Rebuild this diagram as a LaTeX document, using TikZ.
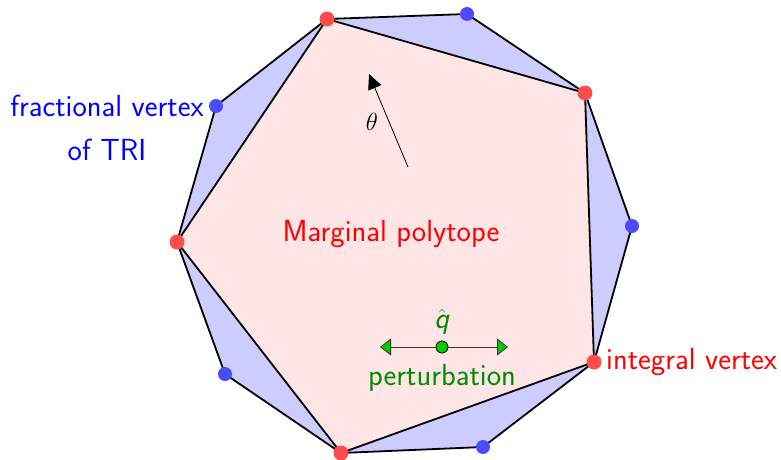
\documentclass[tikz,border=0pt]{standalone}
\usepackage{amsmath,amssymb}
\usepackage{fontspec}
\usepackage{tikz}
\usetikzlibrary{arrows.meta,positioning}
\renewcommand{\familydefault}{\sfdefault}

\tikzset{
  intdot/.style={circle,fill=red!70,inner sep=0pt,minimum size=15pt},
  fracdot/.style={circle,fill=blue!70,inner sep=0pt,minimum size=14pt},
  lbl/.style={font=\fontsize{30.5}{44}\selectfont,align=center}
}

\begin{document}
\begin{tikzpicture}[x=1pt,y=-1pt,line width=1.8pt]
  \useasboundingbox (0,0) rectangle (781,460);
  % vertices
  \coordinate (r1) at (327,19);
  \coordinate (b1) at (467,14);
  \coordinate (r2) at (585,93);
  \coordinate (b2) at (632,226);
  \coordinate (r3) at (594,362);
  \coordinate (b3) at (483,447);
  \coordinate (r4) at (341,453);
  \coordinate (b4) at (225,374);
  \coordinate (r5) at (177,242);
  \coordinate (b5) at (216,106);
  \fill[blue!20] (r1) -- (b1) -- (r2) -- (b2) -- (r3) -- (b3) -- (r4) -- (b4) -- (r5) -- (b5) -- cycle;
  \fill[red!10] (r1) -- (r2) -- (r3) -- (r4) -- (r5) -- cycle;
  \draw (r1) -- (b1) -- (r2) -- (b2) -- (r3) -- (b3) -- (r4) -- (b4) -- (r5) -- (b5) -- cycle;
  \draw (r1) -- (r2) -- (r3) -- (r4) -- (r5) -- cycle;
  \foreach \v in {b1,b2,b3,b4,b5} \node[fracdot] at (\v) {};
  \foreach \v in {r1,r2,r3,r4,r5} \node[intdot] at (\v) {};
  % direction theta
  \coordinate (th0) at (408,167);
  \coordinate (th1) at (369,74);
  \draw[line width=0.8pt,-{Triangle[length=15pt,width=14pt]}] (th0) -- (th1);
  \node[lbl] (theta) at (372,122) {$\theta$};
  % labels
  \node[lbl,text=red] (poly) at (391,234) {Marginal polytope};
  \node[lbl,text=red,right=8pt of r3] (intlbl) {integral vertex};
  \node[lbl,text=blue] (fraclbl) at (107,128) {fractional vertex\\of TRI};
  % perturbation
  \node[circle,draw=black,line width=0.8pt,fill=green!80!black,inner sep=0pt,minimum size=12pt] (q) at (442,347) {};
  \coordinate (ql) at (380,347);
  \coordinate (qr) at (508,347);
  \draw[line width=0.8pt,black!80,-{Triangle[length=11pt,width=17pt,fill=green!80!black,line width=0.8pt]}] (q) -- (ql);
  \draw[line width=0.8pt,black!80,-{Triangle[length=11pt,width=17pt,fill=green!80!black,line width=0.8pt]}] (q) -- (qr);
  \node[lbl,text=green!55!black,above=4pt of q,inner sep=1pt] (qhat) {$\hat{\textsf{\textit{q}}}$};
  \node[lbl,text=green!55!black,below=7pt of q] (pert) {perturbation};
\end{tikzpicture}
\end{document}
